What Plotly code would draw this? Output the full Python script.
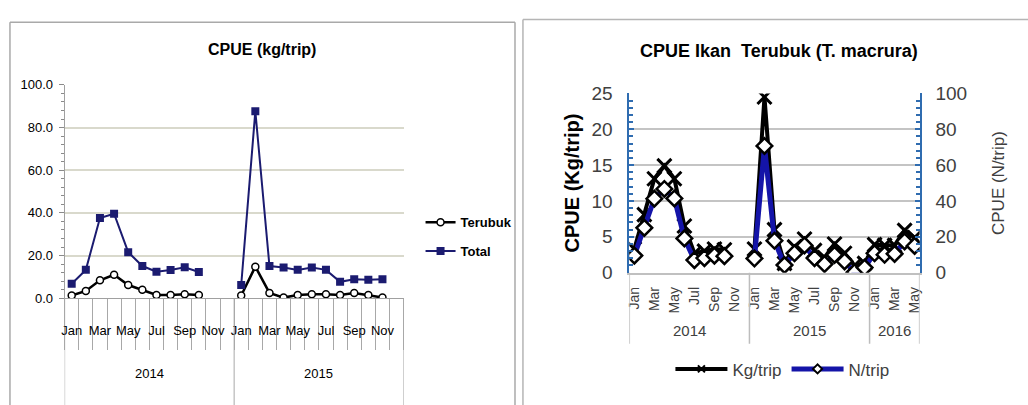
import plotly.graph_objects as go

W, H = 1028, 405

# ---- data -------------------------------------------------------------
months = ["Jan", "Feb", "Mar", "Apr", "May", "Jun",
          "Jul", "Aug", "Sep", "Oct", "Nov", "Dec"]

# left chart: CPUE (kg/trip), 2014-2015
years_left = ["2014", "2015"]
terubuk_2014 = [1.3, 3.4, 8.4, 11.0, 6.2, 4.0, 1.5, 1.5, 1.9, 1.5, None, None]
terubuk_2015 = [1.3, 14.8, 2.5, 0.3, 1.5, 1.9, 1.9, 1.5, 2.4, 1.5, 0.3, None]
total_2014 = [6.8, 13.3, 37.6, 39.6, 21.6, 15.1, 12.4, 13.2, 14.5, 12.3, None, None]
total_2015 = [6.2, 87.7, 15.1, 14.4, 13.3, 14.4, 13.3, 7.7, 8.9, 8.7, 8.9, None]

# right chart: CPUE Ikan Terubuk, 2014 - May 2016
years_right = ["2014", "2015", "2016"]
months_2016 = months[:5]
kg_2014 = [3.3, 8.1, 13.1, 14.9, 13.1, 6.5, 2.7, 3.0, 3.3, 3.2, None, None]
kg_2015 = [3.3, 24.5, 6.0, 1.3, 3.6, 4.7, 3.1, 2.1, 4.0, 2.7, 1.0, 1.3]
kg_2016 = [3.9, 3.8, 3.8, 5.9, 4.9]
n_2014 = [9.5, 25.0, 41.3, 46.7, 41.4, 19.1, 7.0, 8.1, 9.5, 9.2, None, None]
n_2015 = [7.9, 70.7, 17.8, 4.2, 10.8, 15.2, 8.1, 4.8, 9.9, 6.3, 0.2, 2.8]
n_2016 = [10.8, 10.0, 10.5, 17.4, 14.9]

# ---- derived category positions -----------------------------------------
terubuk = terubuk_2014 + terubuk_2015
total = total_2014 + total_2015
x_left = list(range(len(terubuk)))
cat_left = months * 2

kg = kg_2014 + kg_2015 + kg_2016
n_trip = n_2014 + n_2015 + n_2016
x_right = list(range(len(kg)))
cat_right = months + months + months_2016

ARIAL = "Liberation Sans, Arial, sans-serif"
NAVY = "#1b1b70"
BLUE = "#1414a8"
AXBLUE = "#2f6cb0"
GREY_TXT = "#404040"


def px_x(p):
    return p / W


def px_y(p):
    return 1 - p / H


KG_LINE = dict(color="black", width=4)
N_LINE = dict(color=BLUE, width=5)

fig = go.Figure()

fig.add_trace(go.Scatter(
    x=x_left, y=terubuk, xaxis="x", yaxis="y", name="Terubuk",
    mode="lines+markers", legend="legend", legendgroup="a",
    line=dict(color="black", width=2.5),
    marker=dict(symbol="circle", size=7, color="white",
                line=dict(color="black", width=1.5)),
))
fig.add_trace(go.Scatter(
    x=x_left, y=total, xaxis="x", yaxis="y", name="Total",
    mode="lines+markers", legend="legend", legendgroup="b",
    line=dict(color=NAVY, width=2),
    marker=dict(symbol="square", size=8, color=NAVY),
))
fig.add_trace(go.Scatter(
    x=x_right, y=kg, xaxis="x2", yaxis="y2", name="Kg/trip",
    mode="lines+markers", showlegend=False, line=KG_LINE,
    marker=dict(symbol="x-thin", size=14, color="black",
                line=dict(color="black", width=3)),
))
fig.add_trace(go.Scatter(
    x=x_right, y=n_trip, xaxis="x2", yaxis="y3", name="N/trip",
    mode="lines+markers", showlegend=False, line=N_LINE,
    marker=dict(symbol="diamond", size=12, color="white",
                line=dict(color="black", width=2.5)),
))
# legend keys for the right chart (smaller symbols than the plotted markers)
fig.add_trace(go.Scatter(
    x=[None], y=[None], xaxis="x2", yaxis="y2", name="Kg/trip",
    mode="lines+markers", legend="legend2", line=KG_LINE,
    marker=dict(symbol="x-thin", size=7, color="black",
                line=dict(color="black", width=2)),
))
fig.add_trace(go.Scatter(
    x=[None], y=[None], xaxis="x2", yaxis="y3", name="N/trip",
    mode="lines+markers", legend="legend2", line=N_LINE,
    marker=dict(symbol="diamond", size=7, color="white",
                line=dict(color="black", width=2)),
))

# ---- frames, group separators ----------------------------------------------
FRAME_L = dict(color="#a9a9a9", width=1.5)
FRAME_R = dict(color="#b5b5b5", width=1.5)
shapes = [
    dict(type="line", xref="paper", yref="paper", x0=px_x(7), x1=px_x(515),
         y0=px_y(13), y1=px_y(13), line=FRAME_L, layer="below"),
    dict(type="line", xref="paper", yref="paper", x0=px_x(7), x1=px_x(7),
         y0=-0.1, y1=px_y(13), line=FRAME_L, layer="below"),
    dict(type="line", xref="paper", yref="paper", x0=px_x(515), x1=px_x(515),
         y0=-0.1, y1=px_y(13), line=FRAME_L, layer="below"),
    dict(type="line", xref="paper", yref="paper", x0=px_x(523), x1=1.05,
         y0=px_y(10), y1=px_y(10), line=FRAME_R, layer="below"),
    dict(type="line", xref="paper", yref="paper", x0=px_x(523), x1=px_x(523),
         y0=-0.1, y1=px_y(10), line=FRAME_R, layer="below"),
]
for b in [-0.5, 11.5, 23.5]:
    shapes.append(dict(type="line", xref="x", yref="paper",
                       x0=b, x1=b, y0=-0.1, y1=px_y(304),
                       line=dict(color="#a8a8a8", width=1)))
for b in [-0.5, 11.5, 23.5, len(kg) - 0.5]:
    shapes.append(dict(type="line", xref="x2", yref="paper",
                       x0=b, x1=b, y0=px_y(352), y1=px_y(277),
                       line=dict(color="#bdbdbd", width=1.5)))

# ---- titles and year labels --------------------------------------------------
annotations = [
    dict(text="CPUE (kg/trip)", xref="paper", yref="paper",
         x=px_x(261), y=px_y(42), xanchor="center", yanchor="middle",
         showarrow=False,
         font=dict(family=ARIAL, size=16, color="black", weight="bold")),
    dict(text="CPUE Ikan  Terubuk (T. macrura)", xref="paper", yref="paper",
         x=px_x(781), y=px_y(43), xanchor="center", yanchor="middle",
         showarrow=False,
         font=dict(family=ARIAL, size=18, color="black", weight="bold")),
]
for i, yr in enumerate(years_left):
    annotations.append(dict(text=yr, xref="x", yref="paper",
                            x=i * 12 + 5.5, y=px_y(383), xanchor="center",
                            yanchor="middle", showarrow=False,
                            font=dict(family=ARIAL, size=13, color="black")))
right_centres = [5.5, 17.5, 26.0]
for yr, c in zip(years_right, right_centres):
    annotations.append(dict(text=yr, xref="x2", yref="paper",
                            x=c, y=px_y(338), xanchor="center",
                            yanchor="middle", showarrow=False,
                            font=dict(family=ARIAL, size=15, color=GREY_TXT)))

fig.update_layout(
    width=W, height=H,
    margin=dict(l=0, r=0, t=0, b=0),
    paper_bgcolor="white", plot_bgcolor="white",
    shapes=shapes, annotations=annotations,
    xaxis=dict(
        domain=[px_x(62), px_x(403)], range=[-0.5, 23.5], anchor="y",
        tickmode="array", tickvals=x_left[::2], ticktext=cat_left[::2],
        tickangle=0, ticks="", showline=True, linecolor="#a0a0a0", linewidth=1,
        showgrid=False, zeroline=False, ticklabelstandoff=20,
        tickfont=dict(family=ARIAL, size=13, color="black"),
        minor=dict(tickmode="linear", tick0=-0.5, dtick=1, ticks="outside",
                   ticklen=51, tickcolor="#a8a8a8", tickwidth=1, showgrid=False),
    ),
    yaxis=dict(
        domain=[px_y(304), px_y(79)], range=[0, 100], anchor="x",
        dtick=20, tickformat=".1f", ticks="outside", ticklen=5,
        tickcolor="#8a8a8a", showline=True, linecolor="#a0a0a0",
        showgrid=True, gridcolor="#d9d9cc", gridwidth=1.5, zeroline=False,
        ticklabelstandoff=3,
        tickfont=dict(family=ARIAL, size=13, color="black"),
        minor=dict(dtick=4, ticks="outside", ticklen=3, tickcolor="#8a8a8a",
                   showgrid=False),
    ),
    xaxis2=dict(
        domain=[px_x(630), px_x(922)], range=[-0.5, len(kg) - 0.5], anchor="y2",
        tickmode="array", tickvals=x_right[::2], ticktext=cat_right[::2],
        tickangle=-90, ticks="", showline=True, linecolor="#c0c0c0",
        linewidth=1.5, showgrid=False, zeroline=False, ticklabelstandoff=7,
        tickfont=dict(family=ARIAL, size=14, color=GREY_TXT),
    ),
    yaxis2=dict(
        domain=[px_y(277), px_y(88)], range=[0, 25], anchor="x2",
        dtick=5, ticks="inside", ticklen=5, tickcolor=AXBLUE, tickwidth=1.5,
        showline=True, linecolor=AXBLUE, linewidth=2,
        showgrid=True, gridcolor="#c4c4c4", gridwidth=1.5, zeroline=False,
        ticklabelstandoff=11,
        tickfont=dict(family=ARIAL, size=19, color=GREY_TXT),
        minor=dict(dtick=1, ticks="inside", ticklen=4, tickcolor=AXBLUE,
                   tickwidth=1.5, showgrid=False),
        title=dict(text="CPUE (Kg/trip)", standoff=6,
                   font=dict(family=ARIAL, size=20, color="black", weight="bold")),
    ),
    yaxis3=dict(
        overlaying="y2", side="right", anchor="x2", range=[0, 100],
        dtick=20, ticks="inside", ticklen=5, tickcolor=AXBLUE, tickwidth=1.5,
        showline=True, linecolor=AXBLUE, linewidth=2,
        showgrid=False, zeroline=False, ticklabelstandoff=10,
        tickfont=dict(family=ARIAL, size=19, color=GREY_TXT),
        minor=dict(dtick=4, ticks="inside", ticklen=4, tickcolor=AXBLUE,
                   tickwidth=1.5, showgrid=False),
        title=dict(text="CPUE (N/trip)", standoff=26,
                   font=dict(family=ARIAL, size=17, color=GREY_TXT)),
    ),
    legend=dict(
        x=px_x(420), y=px_y(208), xanchor="left", yanchor="top",
        bgcolor="rgba(0,0,0,0)", tracegroupgap=9,
        font=dict(family=ARIAL, size=13, color="black", weight="bold"),
    ),
    legend2=dict(
        orientation="h", x=px_x(784), y=px_y(379), xanchor="center",
        yanchor="middle", itemwidth=52,
        bgcolor="rgba(0,0,0,0)",
        font=dict(family=ARIAL, size=17, color=GREY_TXT),
    ),
)

# page without default body margin, so the figure sits at the window origin
fig.write_html(
    "out.html",
    post_script="document.body.style.margin='0';"
                "document.body.style.overflow='hidden';",
)
